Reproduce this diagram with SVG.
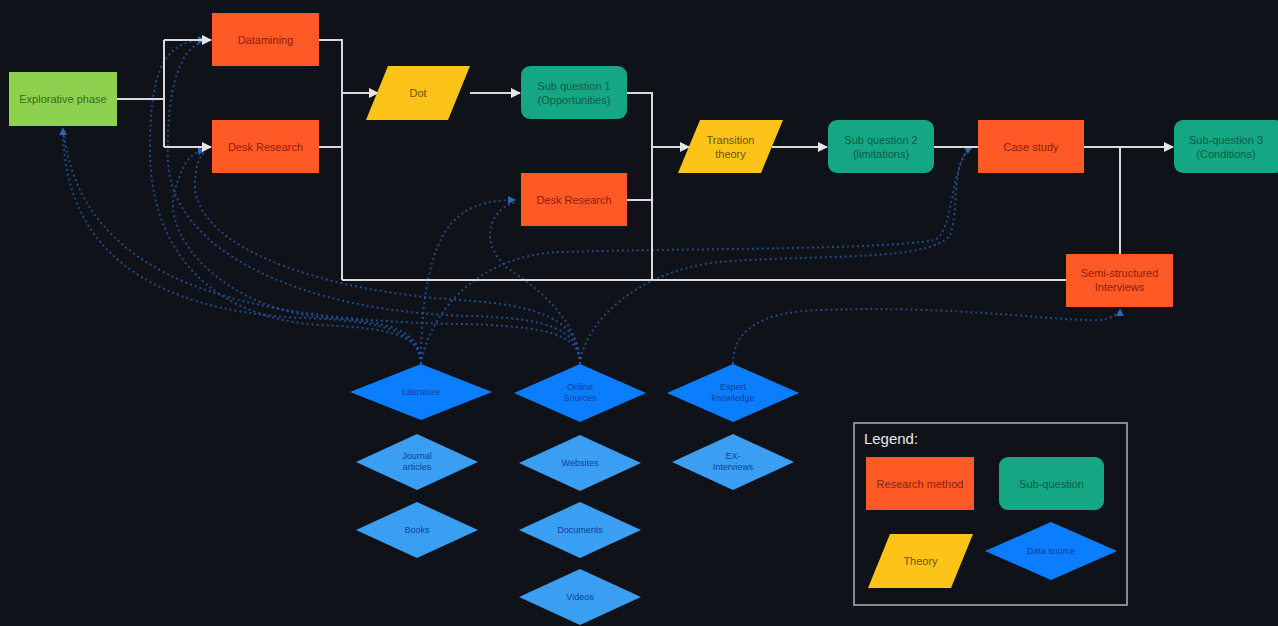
<svg xmlns="http://www.w3.org/2000/svg" width="1278" height="626" viewBox="0 0 1278 626">
<defs>
<marker id="aw" viewBox="0 0 10 10" refX="9" refY="5" markerWidth="5" markerHeight="5" orient="auto"><path d="M0,0 L10,5 L0,10 z" fill="#e6e6e6"/></marker>
<marker id="ab" viewBox="0 0 10 10" refX="9" refY="5" markerWidth="4" markerHeight="4" orient="auto"><path d="M0,0 L10,5 L0,10 z" fill="#2f7fe0"/></marker>
<style>
.bg{fill:#0f1218}
.flow{fill:none;stroke:#d9d9d9;stroke-width:2}
.dash{fill:none;stroke:#255aa6;stroke-width:2;stroke-dasharray:2 3;opacity:0.8}
.method{fill:#ff5a26}
.sub{fill:#15a784}
.theory{fill:#fcc419}
.explore{fill:#8ed14f}
.src{fill:#0b7dff}
.src2{fill:#3a9ff2}
text{font-family:"Liberation Sans",Arial,sans-serif;font-size:11px;text-anchor:middle;dominant-baseline:central}
.tm{fill:#8f1a08}
.ts{fill:#0a5b45}
.tt{fill:#6e5100}
.te{fill:#3a6a1a}
.td{fill:#0a3f99;font-size:9px}
</style>
</defs>
<rect class="bg" x="0" y="0" width="1278" height="626"/>

<g id="connectors">
<!-- dashed data source links -->
<path class="dash" d="M421,364 C421,335 390,320 300,318 C150,310 63,250 63,128" marker-end="url(#ab)"/>
<path class="dash" d="M580,364 C580,335 550,326 460,324 C260,320 80,290 63,128"/>
<path class="dash" d="M421,364 C421,335 390,328 320,325 C210,318 150,250 150,150 C150,80 160,40 205,40" marker-end="url(#ab)"/>
<path class="dash" d="M580,364 C580,330 550,318 470,316 C300,312 170,250 168,160 C166,90 180,45 205,42"/>
<path class="dash" d="M421,364 C421,335 400,322 330,318 C230,312 160,240 175,190 C182,165 190,152 205,150" marker-end="url(#ab)"/>
<path class="dash" d="M580,364 C580,320 540,305 460,300 C330,292 190,250 195,180 C197,162 200,155 205,152"/>
<path class="dash" d="M421,364 C421,300 430,250 450,225 C465,207 485,200 515,200" marker-end="url(#ab)"/>
<path class="dash" d="M580,364 C578,320 540,290 510,270 C485,252 480,215 515,202"/>
<path class="dash" d="M421,364 C430,310 480,255 560,252 C700,248 880,250 935,240 C955,230 950,160 972,147" marker-end="url(#ab)"/>
<path class="dash" d="M580,364 C585,320 640,270 720,262 C820,254 930,262 950,235 C960,210 950,160 972,148"/>
<path class="dash" d="M733,364 C733,330 760,312 820,310 C960,305 1060,322 1100,320 C1115,318 1120,312 1120,309" marker-end="url(#ab)"/>

<!-- white flow connectors -->
<path class="flow" d="M117,99 H164"/>
<path class="flow" d="M164,40 V147"/>
<path class="flow" d="M164,40 H211" marker-end="url(#aw)"/>
<path class="flow" d="M164,147 H211" marker-end="url(#aw)"/>
<path class="flow" d="M319,40 H342 V280"/>
<path class="flow" d="M319,147 H342"/>
<path class="flow" d="M342,93 H378" marker-end="url(#aw)"/>
<path class="flow" d="M470,93 H520" marker-end="url(#aw)"/>
<path class="flow" d="M627,93 H652 V280"/>
<path class="flow" d="M627,200 H652"/>
<path class="flow" d="M652,147 H689" marker-end="url(#aw)"/>
<path class="flow" d="M772,147 H827" marker-end="url(#aw)"/>
<path class="flow" d="M934,147 H978"/>
<path class="flow" d="M1084,147 H1173" marker-end="url(#aw)"/>
<path class="flow" d="M1120,147 V254"/>
<path class="flow" d="M342,280 H1066"/>
</g>

<g id="explorative"><rect class="explore" x="9" y="72" width="108" height="54"/><text class="te" x="63" y="99">Explorative phase</text></g>
<g id="datamining"><rect class="method" x="212" y="13" width="107" height="53"/><text class="tm" x="265.5" y="39.5">Datamining</text></g>
<g id="desk1"><rect class="method" x="212" y="120" width="107" height="53"/><text class="tm" x="265.5" y="146.5">Desk Research</text></g>
<g id="dot"><polygon class="theory" points="388,66 470,66 448,120 366,120"/><text class="tt" x="418" y="93">Dot</text></g>
<g id="sq1"><rect class="sub" x="521" y="66" width="106" height="53" rx="9"/><text class="ts" x="574" y="86">Sub question 1</text><text class="ts" x="574" y="100">(Opportunities)</text></g>
<g id="desk2"><rect class="method" x="521" y="173" width="106" height="53"/><text class="tm" x="574" y="199.5">Desk Research</text></g>
<g id="transition"><polygon class="theory" points="700,120 783,120 761,173 678,173"/><text class="tt" x="730.5" y="140">Transition</text><text class="tt" x="730.5" y="154">theory</text></g>
<g id="sq2"><rect class="sub" x="828" y="120" width="106" height="53" rx="9"/><text class="ts" x="881" y="140">Sub question 2</text><text class="ts" x="881" y="154">(limitations)</text></g>
<g id="casestudy"><rect class="method" x="978" y="120" width="106" height="53"/><text class="tm" x="1031" y="146.5">Case study</text></g>
<g id="sq3"><rect class="sub" x="1174" y="120" width="110" height="53" rx="9"/><text class="ts" x="1226" y="140">Sub-question 3</text><text class="ts" x="1226" y="154">(Conditions)</text></g>
<g id="semi"><rect class="method" x="1066" y="254" width="107" height="53"/><text class="tm" x="1119.5" y="273">Semi-structured</text><text class="tm" x="1119.5" y="287">Interviews</text></g>

<g id="literature"><polygon class="src" points="421,364 492,392 421,420 350,392"/><text class="td" x="421" y="392">Literature</text></g>
<g id="online"><polygon class="src" points="580,364 646,393 580,422 514,393"/><text class="td" x="580" y="387">Online</text><text class="td" x="580" y="398">Sources</text></g>
<g id="expert"><polygon class="src" points="733,364 799,393 733,422 667,393"/><text class="td" x="733" y="387">Expert</text><text class="td" x="733" y="398">knowledge</text></g>
<g id="journal"><polygon class="src2" points="417,434 478,462 417,490 356,462"/><text class="td" x="417" y="456">Journal</text><text class="td" x="417" y="467">articles</text></g>
<g id="websites"><polygon class="src2" points="580,435 641,463 580,491 519,463"/><text class="td" x="580" y="463">Websites</text></g>
<g id="exinterviews"><polygon class="src2" points="733,434 794,462 733,490 672,462"/><text class="td" x="733" y="456">EX-</text><text class="td" x="733" y="467">Interviews</text></g>
<g id="books"><polygon class="src2" points="417,502 478,530 417,558 356,530"/><text class="td" x="417" y="530">Books</text></g>
<g id="documents"><polygon class="src2" points="580,502 641,530 580,558 519,530"/><text class="td" x="580" y="530">Documents</text></g>
<g id="videos"><polygon class="src2" points="580,569 641,597 580,625 519,597"/><text class="td" x="580" y="597">Videos</text></g>

<g id="legend">
<rect x="854" y="423" width="273" height="182" fill="none" stroke="#b0b0b0" stroke-width="1.5"/>
<text x="891" y="438" style="fill:#e8e8e8;font-size:15px">Legend:</text>
<rect class="method" x="866" y="457" width="108" height="53"/><text class="tm" x="920" y="483.5">Research method</text>
<rect class="sub" x="999" y="457" width="105" height="53" rx="9"/><text class="ts" x="1051.5" y="483.5">Sub-question</text>
<polygon class="theory" points="890,534 973,534 951,588 868,588"/><text class="tt" x="920.5" y="561">Theory</text>
<polygon class="src" points="1051,522 1117,551 1051,580 985,551"/><text class="td" x="1051" y="551">Data source</text>
</g>
</svg>
